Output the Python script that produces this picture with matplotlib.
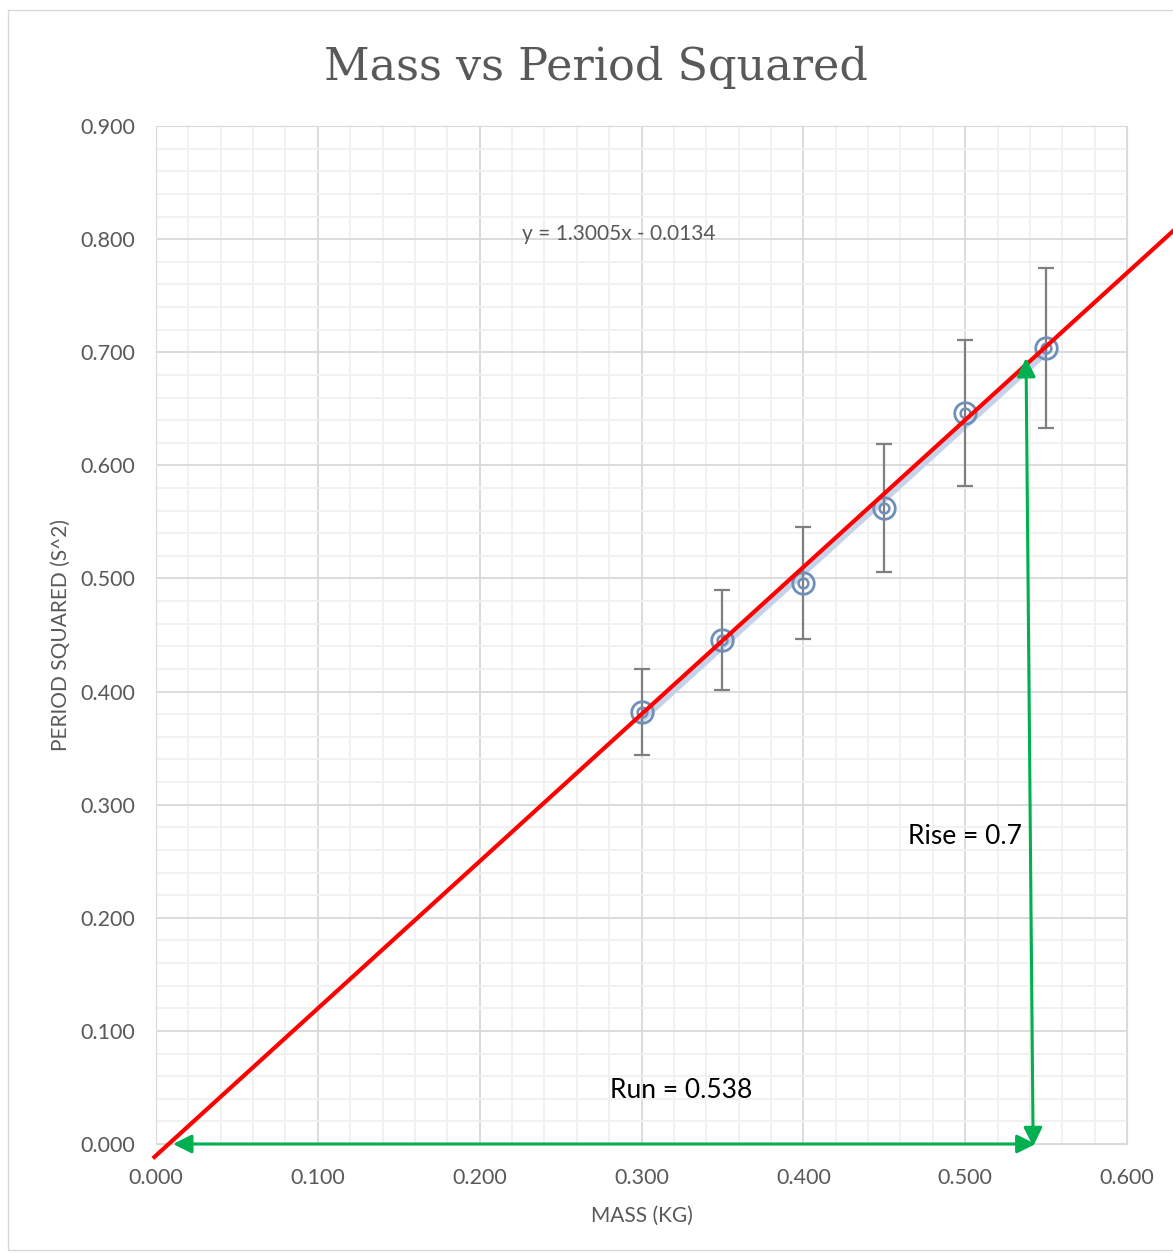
import numpy as np
import matplotlib.pyplot as plt
from matplotlib.patches import Rectangle

# данные измерений
mass = [0.300, 0.350, 0.400, 0.450, 0.500, 0.550]
period_sq = [0.382, 0.4456, 0.496, 0.5623, 0.6463, 0.7038]
period_err = [0.0382, 0.0446, 0.0496, 0.0562, 0.0646, 0.0704]

# линия тренда Excel
slope = 1.3005
intercept = -0.0134

# нарисованная от руки красная прямая
red_x = [-0.001, 0.640]
red_y = [-0.0115, 0.8222]

# стрелки rise / run
run_x = [0.0105, 0.5435]
run_y = [0.0, 0.0]
rise_x = [0.5420, 0.5376]
rise_y = [-0.002, 0.695]

gray = '#595959'
font = ['Lato', 'DejaVu Sans']

fig = plt.figure(figsize=(11.73, 12.53), dpi=100)
fig.patches.append(Rectangle((8 / 1173, 1 - 1250 / 1253), 1.2, (1240) / 1253,
                             transform=fig.transFigure, fill=False,
                             edgecolor='#d9d9d9', linewidth=1))
ax = fig.add_axes([0.1330, 0.0870, 0.8278, 0.8124])

ax.set_xlim(0, 0.6)
ax.set_ylim(0, 0.9)
ax.set_xticks(np.arange(0, 0.61, 0.1))
ax.set_yticks(np.arange(0, 0.91, 0.1))
ax.set_xticks(np.arange(0, 0.601, 0.02), minor=True)
ax.set_yticks(np.arange(0, 0.901, 0.02), minor=True)
ax.set_xticklabels([f'{v:.3f}' for v in np.arange(0, 0.61, 0.1)])
ax.set_yticklabels([f'{v:.3f}' for v in np.arange(0, 0.91, 0.1)])
ax.grid(which='major', color='#d9d9d9', linewidth=1.3)
ax.grid(which='minor', color='#f0f0f0', linewidth=1.3)
ax.set_axisbelow(True)
ax.tick_params(which='both', length=0, labelsize=15.5, labelcolor=gray)
ax.tick_params(axis='y', pad=15)
ax.tick_params(axis='x', pad=17)
for lab in ax.get_xticklabels() + ax.get_yticklabels():
    lab.set_family(font)
for s in ax.spines.values():
    s.set_color('#d9d9d9')

ax.set_xlabel('MASS (KG)', fontsize=15, color=gray, family=font, labelpad=13)
ax.set_ylabel('PERIOD SQUARED (S^2)', fontsize=15, color=gray, family=font, labelpad=7)
fig.text(0.508, 0.946, 'Mass vs Period Squared', ha='center', va='center',
         fontsize=32, color=gray, family=['DejaVu Serif'])

# линия тренда
tx = np.array([mass[0], mass[-1]])
ax.plot(tx, slope * tx + intercept - 0.002, color='#c5d3ea', linewidth=4.5, zorder=3)

# погрешности и точки
ax.errorbar(mass, period_sq, yerr=period_err, fmt='none', ecolor='#7f7f7f',
            elinewidth=1.6, capsize=6, capthick=1.6, zorder=4)
ax.plot(mass, period_sq, 'o', markersize=15.5, markerfacecolor='none',
        markeredgecolor='#6f8fb8', markeredgewidth=2, zorder=5)
ax.plot(mass, period_sq, 'o', markersize=7, markerfacecolor='none',
        markeredgecolor='#6f8fb8', markeredgewidth=1.8, zorder=5)

ax.plot(red_x, red_y, color='#ff0000', linewidth=3, clip_on=False, zorder=6)

ax.annotate('', xy=(run_x[0], run_y[0]), xytext=(run_x[1], run_y[1]),
            arrowprops=dict(arrowstyle='<|-|>', color='#00b050', lw=2.2,
                            mutation_scale=28, shrinkA=0, shrinkB=0),
            annotation_clip=False, zorder=7)
ax.annotate('', xy=(rise_x[0], rise_y[0]), xytext=(rise_x[1], rise_y[1]),
            arrowprops=dict(arrowstyle='<|-|>', color='#00b050', lw=2.2,
                            mutation_scale=28, shrinkA=0, shrinkB=0),
            annotation_clip=False, zorder=7)

ax.text(0.286, 0.805, 'y = 1.3005x - 0.0134', ha='center', va='center',
        fontsize=15, color=gray, family=font)
ax.text(0.500, 0.272, 'Rise = 0.7', ha='center', va='center',
        fontsize=19, color='black', family=font)
ax.text(0.3245, 0.0477, 'Run = 0.538', ha='center', va='center',
        fontsize=19, color='black', family=font)

fig.savefig('out.png', dpi=100)
